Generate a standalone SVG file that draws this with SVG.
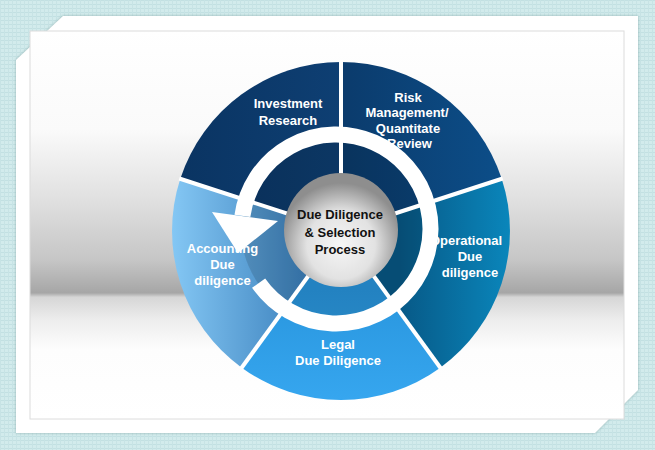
<svg xmlns="http://www.w3.org/2000/svg" width="655" height="450" viewBox="0 0 655 450">
  <defs>
    <pattern id="grid" width="4" height="4" patternUnits="userSpaceOnUse">
      <rect width="4" height="4" fill="#d2ebec"/>
      <rect width="4" height="1" fill="#c2e0e2"/>
      <rect width="1" height="4" fill="#c7e3e5"/>
    </pattern>
    <linearGradient id="band" x1="0" y1="31" x2="0" y2="419" gradientUnits="userSpaceOnUse">
      <stop offset="0" stop-color="#ffffff"/>
      <stop offset="0.255" stop-color="#fafafa"/>
      <stop offset="0.436" stop-color="#e0e0e0"/>
      <stop offset="0.59" stop-color="#c6c6c6"/>
      <stop offset="0.675" stop-color="#a6a6a6"/>
      <stop offset="0.686" stop-color="#d6d6d6"/>
      <stop offset="0.745" stop-color="#ededed"/>
      <stop offset="0.82" stop-color="#fdfdfd"/>
      <stop offset="1" stop-color="#ffffff"/>
    </linearGradient>
    <linearGradient id="gInv" x1="180" y1="0" x2="341" y2="0" gradientUnits="userSpaceOnUse">
      <stop offset="0" stop-color="#0a3462"/>
      <stop offset="1" stop-color="#0e3f73"/>
    </linearGradient>
    <linearGradient id="gRisk" x1="341" y1="0" x2="505" y2="0" gradientUnits="userSpaceOnUse">
      <stop offset="0" stop-color="#0b3b6c"/>
      <stop offset="1" stop-color="#0c4e89"/>
    </linearGradient>
    <linearGradient id="gOps" x1="400" y1="0" x2="510" y2="0" gradientUnits="userSpaceOnUse">
      <stop offset="0" stop-color="#075987"/>
      <stop offset="1" stop-color="#0a86bb"/>
    </linearGradient>
    <linearGradient id="gLegal" x1="0" y1="290" x2="0" y2="400" gradientUnits="userSpaceOnUse">
      <stop offset="0" stop-color="#2996de"/>
      <stop offset="1" stop-color="#36a6ef"/>
    </linearGradient>
    <linearGradient id="gAcc" x1="172" y1="0" x2="300" y2="0" gradientUnits="userSpaceOnUse">
      <stop offset="0" stop-color="#84c7f4"/>
      <stop offset="1" stop-color="#3f84bf"/>
    </linearGradient>
    <radialGradient id="gCenter" cx="341" cy="245" r="62" gradientUnits="userSpaceOnUse">
      <stop offset="0" stop-color="#f6f6f6"/>
      <stop offset="0.55" stop-color="#e2e2e2"/>
      <stop offset="1" stop-color="#8e8e8e"/>
    </radialGradient>
    <filter id="shadow" x="-5%" y="-5%" width="110%" height="110%">
      <feDropShadow dx="0" dy="0" stdDeviation="1.5" flood-color="#7fa3a3" flood-opacity="0.8"/>
    </filter>
    <style>
      .lbl { font-family: "Liberation Sans", Arial, sans-serif; font-weight: bold; font-size: 13px; fill: #ffffff; text-anchor: middle; }
      .ctr { font-family: "Liberation Sans", Arial, sans-serif; font-weight: bold; font-size: 13px; fill: #111111; text-anchor: middle; }
      .sep { stroke: #ffffff; stroke-width: 4; fill: none; }
    </style>
  </defs>

  <!-- background -->
  <rect width="655" height="450" fill="url(#grid)"/>
  <polygon points="16,60 63,16 638,16 638,390 595,433 16,433" fill="#ffffff" filter="url(#shadow)"/>
  <rect x="30" y="31" width="594" height="388" fill="url(#band)" stroke="#dcdcdc" stroke-width="1"/>

  <!-- segments -->
  <g id="investment-research">
    <path d="M341,231 L180.3,178.8 A169,169 0 0 1 341,62 Z" fill="url(#gInv)"/>
  </g>
  <g id="risk-management">
    <path d="M341,231 L341,62 A169,169 0 0 1 501.7,178.8 Z" fill="url(#gRisk)"/>
  </g>
  <g id="operational">
    <path d="M341,231 L501.7,178.8 A169,169 0 0 1 440.3,367.7 Z" fill="url(#gOps)"/>
  </g>
  <g id="legal">
    <path d="M341,231 L440.3,367.7 A169,169 0 0 1 241.7,367.7 Z" fill="url(#gLegal)"/>
  </g>
  <g id="accounting">
    <path d="M341,231 L241.7,367.7 A169,169 0 0 1 180.3,178.8 Z" fill="url(#gAcc)"/>
  </g>

  <!-- inner darker ring -->
  <circle cx="336" cy="229" r="95" fill="#000000" fill-opacity="0.13"/>

  <!-- separators -->
  <g id="connectors">
    <line class="sep" x1="341" y1="231" x2="341" y2="60"/>
    <line class="sep" x1="341" y1="231" x2="502.7" y2="178.5"/>
    <line class="sep" x1="341" y1="231" x2="440.9" y2="368.5"/>
    <line class="sep" x1="341" y1="231" x2="241.1" y2="368.5"/>
    <line class="sep" x1="341" y1="231" x2="179.3" y2="178.5"/>
  </g>

  <!-- center -->
  <g id="center">
    <circle cx="341" cy="230" r="57" fill="url(#gCenter)"/>
    <text class="ctr" x="340" y="219">Due Diligence</text>
    <text class="ctr" x="340" y="236.5">&amp; Selection</text>
    <text class="ctr" x="340" y="254">Process</text>
  </g>

  <!-- labels -->
  <g id="label-investment">
    <text class="lbl" x="288" y="108">Investment</text>
    <text class="lbl" x="288" y="125">Research</text>
  </g>
  <g id="label-risk">
    <text class="lbl" x="408" y="101.5">Risk</text>
    <text class="lbl" x="407" y="117">Management/</text>
    <text class="lbl" x="408" y="132.5">Quantitate</text>
    <text class="lbl" x="409.5" y="148">Review</text>
  </g>
  <g id="label-operational">
    <text class="lbl" x="466" y="245">Operational</text>
    <text class="lbl" x="470" y="261">Due</text>
    <text class="lbl" x="470" y="277">diligence</text>
  </g>
  <g id="label-legal">
    <text class="lbl" x="338" y="349">Legal</text>
    <text class="lbl" x="338" y="365">Due Diligence</text>
  </g>
  <g id="label-accounting">
    <text class="lbl" x="222.5" y="253">Accounting</text>
    <text class="lbl" x="222.5" y="269">Due</text>
    <text class="lbl" x="222.5" y="285">diligence</text>
  </g>

  <!-- cycle arrow -->
  <g id="cycle-arrow">
    <path d="M258.6,283.2 A94.5,94.5 0 1 0 242.4,215.8" fill="none" stroke="#ffffff" stroke-width="16"/>
    <polygon points="212,212 278,221 238,253" fill="#ffffff"/>
  </g>
</svg>
